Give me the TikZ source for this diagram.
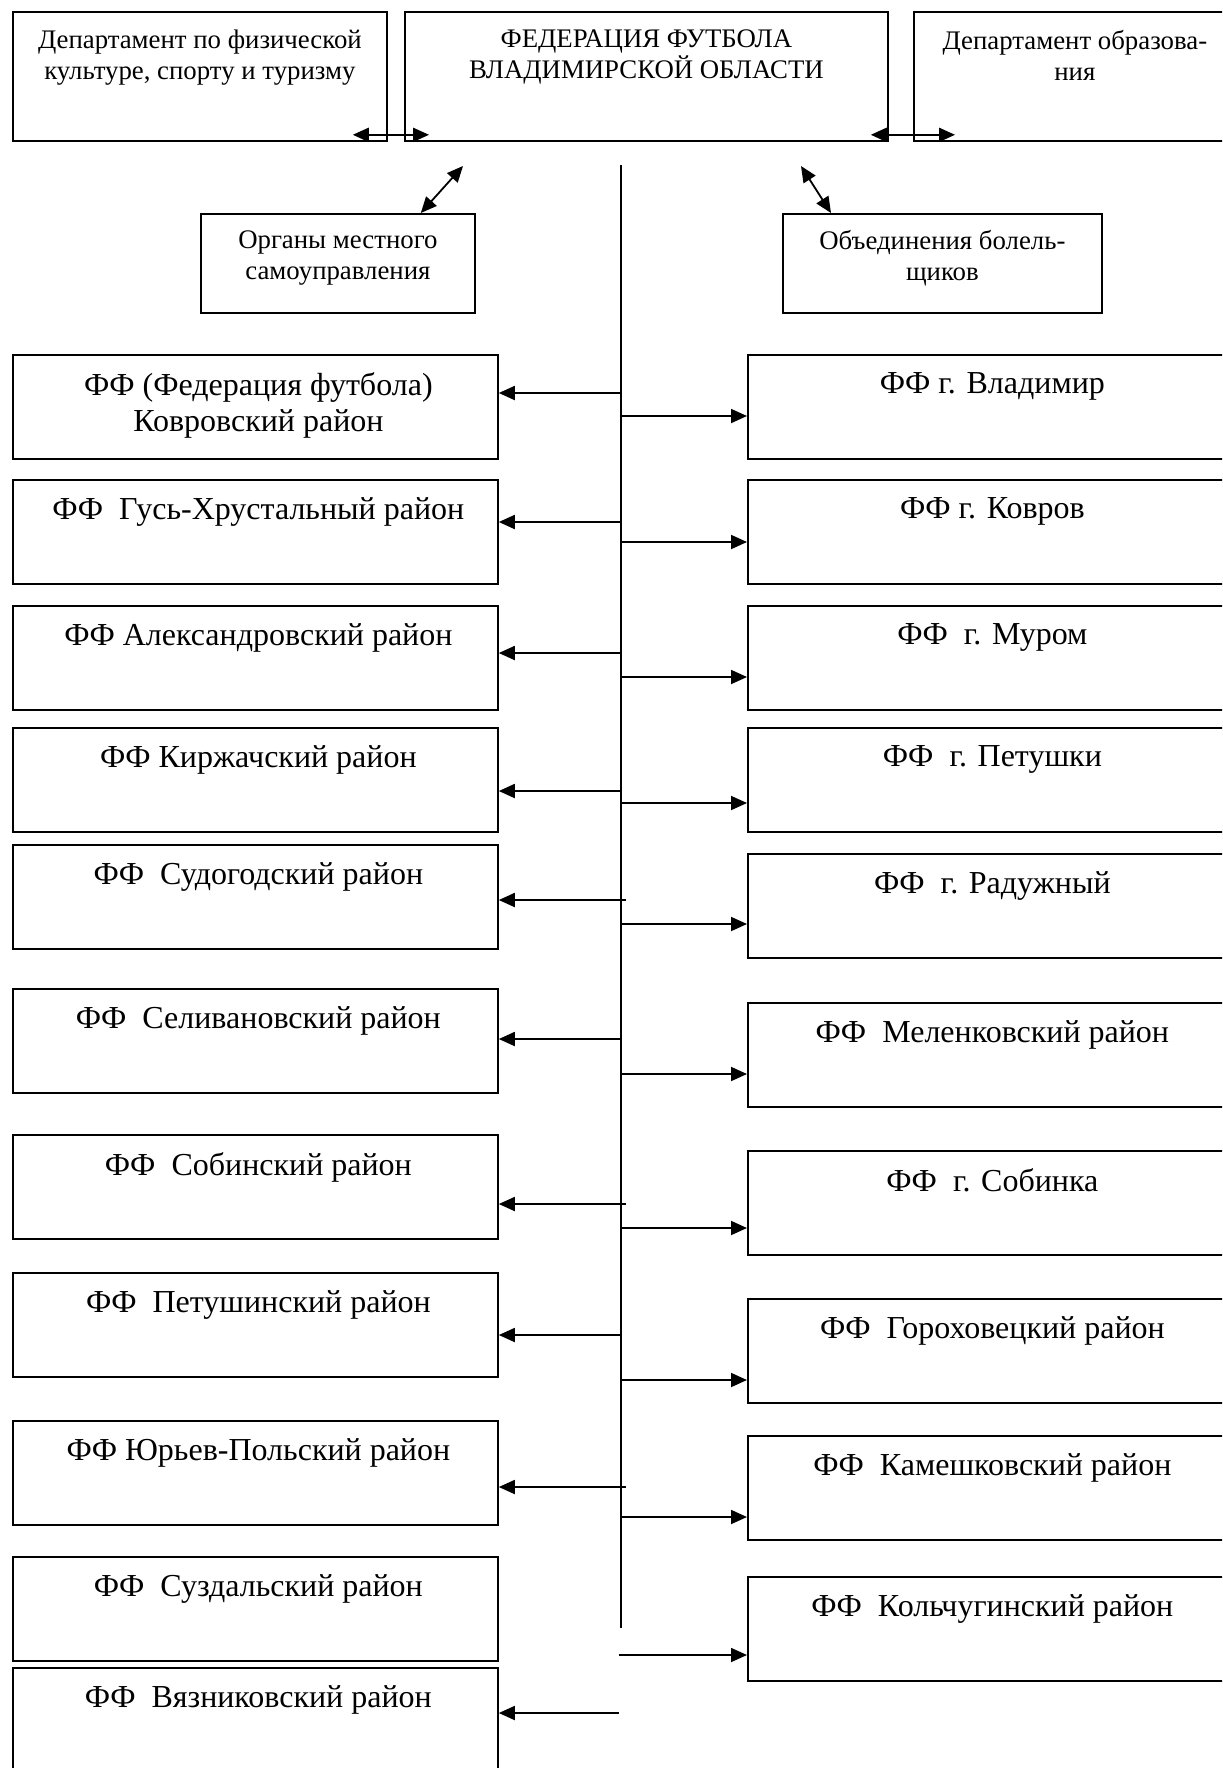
\documentclass[tikz,border=0pt]{standalone}
\usepackage{fontspec}
\setmainfont{Liberation Serif}
\usetikzlibrary{arrows.meta, positioning}

\tikzset{
  box/.style={draw, line width=0.9pt, anchor=north west, inner sep=0pt},
  lbox/.style={box, minimum width=242.5pt, minimum height=52pt},
  rbox/.style={box, minimum width=244.5pt, minimum height=52pt},
  bigtxt/.style={inner sep=0pt, align=center, font=\fontsize{16}{18}\selectfont},
  ltxt/.style={bigtxt, xshift=1.5pt},
  smalltxt/.style={inner sep=0pt, align=center, font=\fontsize{13.4}{15.5}\selectfont},
  link/.style={line width=0.9pt, -{Triangle[length=8pt,width=7pt]}},
  both/.style={line width=0.9pt, {Triangle[length=8pt,width=7pt]}-{Triangle[length=8pt,width=7pt]}}
}

\begin{document}
\begin{tikzpicture}[x=0.5pt, y=-0.5pt]
    \clip (0,0) rectangle (1222,1768);

    \node[box, minimum width=187pt, minimum height=64.5pt] (dep1) at (12,11) {};
    \node[box, minimum width=241.5pt, minimum height=64.5pt] (fed) at (404,11) {};
    \node[box, minimum width=161pt, minimum height=64.5pt] (dep2) at (913,11) {};
    \node[smalltxt, below=9.3pt of dep1.north] (dep1t) {Департамент по физической\\культуре, спорту и туризму};
    \node[smalltxt, below=9.3pt of fed.north] (fedt) {ФЕДЕРАЦИЯ ФУТБОЛА\\ВЛАДИМИРСКОЙ ОБЛАСТИ};
    \node[smalltxt, below=9.3pt of dep2.north] (dep2t) {Департамент образова-\\ния};
    \draw[both] ([xshift=-17.5pt,yshift=3.5pt]dep1.south east) -- ([xshift=12.5pt,yshift=3.5pt]fed.south west);
    \draw[both] ([xshift=-9pt,yshift=3.5pt]fed.south east) -- ([xshift=21pt,yshift=3.5pt]dep2.south west);

    \node[box, minimum width=137pt, minimum height=49.5pt] (org) at (200,213) {};
    \node[box, minimum width=159.5pt, minimum height=49.5pt] (fans) at (782,213) {};
    \node[smalltxt, below=8.6pt of org.north] (orgt) {Органы местного\\самоуправления};
    \node[smalltxt, below=8.6pt of fans.north] (fanst) {Объединения болель-\\щиков};
    \coordinate (orgtip) at (463,166);
    \coordinate (fanstip) at (801,166);
    \draw[both] (orgtip) -- ([xshift=-27.5pt]org.north east);
    \draw[both] (fanstip) -- ([xshift=24.5pt]fans.north west);

    \coordinate (top) at (621,165);
    \coordinate (bottom) at (621,1628);
    \draw[line width=0.9pt] (top) -- (bottom);

    \node[lbox] (l1) at (12,354) {};
    \node[lbox] (l2) at (12,479) {};
    \node[lbox] (l3) at (12,605) {};
    \node[lbox] (l4) at (12,727) {};
    \node[lbox] (l5) at (12,844) {};
    \node[lbox] (l6) at (12,988) {};
    \node[lbox] (l7) at (12,1134) {};
    \node[lbox] (l8) at (12,1272) {};
    \node[lbox] (l9) at (12,1420) {};
    \node[lbox] (l10) at (12,1556) {};
    \node[lbox] (l11) at (12,1667) {};
    \node[ltxt, below=9.3pt of l1.north] (l1t) {ФФ (Федерация футбола)\\Ковровский район};
    \node[ltxt, below=9.3pt of l2.north] (l2t) {ФФ~~Гусь-Хрустальный район};
    \node[ltxt, below=9.3pt of l3.north] (l3t) {ФФ Александровский район};
    \node[ltxt, below=9.3pt of l4.north] (l4t) {ФФ Киржачский район};
    \node[ltxt, below=9.3pt of l5.north] (l5t) {ФФ~~Судогодский район};
    \node[ltxt, below=9.3pt of l6.north] (l6t) {ФФ~~Селивановский район};
    \node[ltxt, below=9.3pt of l7.north] (l7t) {ФФ~~Собинский район};
    \node[ltxt, below=9.3pt of l8.north] (l8t) {ФФ~~Петушинский район};
    \node[ltxt, below=9.3pt of l9.north] (l9t) {ФФ Юрьев-Польский район};
    \node[ltxt, below=9.3pt of l10.north] (l10t) {ФФ~~Суздальский район};
    \node[ltxt, below=9.3pt of l11.north] (l11t) {ФФ~~Вязниковский район};

    \node[rbox] (r1) at (747,354) {};
    \node[rbox] (r2) at (747,479) {};
    \node[rbox] (r3) at (747,605) {};
    \node[rbox] (r4) at (747,727) {};
    \node[rbox] (r5) at (747,853) {};
    \node[rbox] (r6) at (747,1002) {};
    \node[rbox] (r7) at (747,1150) {};
    \node[rbox] (r8) at (747,1298) {};
    \node[rbox] (r9) at (747,1435) {};
    \node[rbox] (r10) at (747,1576) {};
    \node[bigtxt, below=9.3pt of r1.north] (r1t) {ФФ г. Владимир};
    \node[bigtxt, below=9.3pt of r2.north] (r2t) {ФФ г. Ковров};
    \node[bigtxt, below=9.3pt of r3.north] (r3t) {ФФ~~г. Муром};
    \node[bigtxt, below=9.3pt of r4.north] (r4t) {ФФ~~г. Петушки};
    \node[bigtxt, below=9.3pt of r5.north] (r5t) {ФФ~~г. Радужный};
    \node[bigtxt, below=9.3pt of r6.north] (r6t) {ФФ~~Меленковский район};
    \node[bigtxt, below=9.3pt of r7.north] (r7t) {ФФ~~г. Собинка};
    \node[bigtxt, below=9.3pt of r8.north] (r8t) {ФФ~~Гороховецкий район};
    \node[bigtxt, below=9.3pt of r9.north] (r9t) {ФФ~~Камешковский район};
    \node[bigtxt, below=9.3pt of r10.north] (r10t) {ФФ~~Кольчугинский район};

    \coordinate (s1) at (621,393);
    \coordinate (s2) at (621,522);
    \coordinate (s3) at (621,653);
    \coordinate (s4) at (621,791);
    \coordinate (s5) at (626,900);
    \coordinate (s6) at (621,1039);
    \coordinate (s7) at (626,1204);
    \coordinate (s8) at (621,1335);
    \coordinate (s9) at (626,1487);
    \coordinate (s11) at (619,1713);
    \draw[link] (s1) -- (s1 -| l1.east);
    \draw[link] (s2) -- (s2 -| l2.east);
    \draw[link] (s3) -- (s3 -| l3.east);
    \draw[link] (s4) -- (s4 -| l4.east);
    \draw[link] (s5) -- (s5 -| l5.east);
    \draw[link] (s6) -- (s6 -| l6.east);
    \draw[link] (s7) -- (s7 -| l7.east);
    \draw[link] (s8) -- (s8 -| l8.east);
    \draw[link] (s9) -- (s9 -| l9.east);
    \draw[link] (s11) -- (s11 -| l11.east);

    \coordinate (t1) at (621,416);
    \coordinate (t2) at (621,542);
    \coordinate (t3) at (621,677);
    \coordinate (t4) at (621,803);
    \coordinate (t5) at (621,924);
    \coordinate (t6) at (621,1074);
    \coordinate (t7) at (621,1228);
    \coordinate (t8) at (621,1380);
    \coordinate (t9) at (621,1517);
    \coordinate (t10) at (619,1655);
    \draw[link] (t1) -- (t1 -| r1.west);
    \draw[link] (t2) -- (t2 -| r2.west);
    \draw[link] (t3) -- (t3 -| r3.west);
    \draw[link] (t4) -- (t4 -| r4.west);
    \draw[link] (t5) -- (t5 -| r5.west);
    \draw[link] (t6) -- (t6 -| r6.west);
    \draw[link] (t7) -- (t7 -| r7.west);
    \draw[link] (t8) -- (t8 -| r8.west);
    \draw[link] (t9) -- (t9 -| r9.west);
    \draw[link] (t10) -- (t10 -| r10.west);
\end{tikzpicture}
\end{document}
